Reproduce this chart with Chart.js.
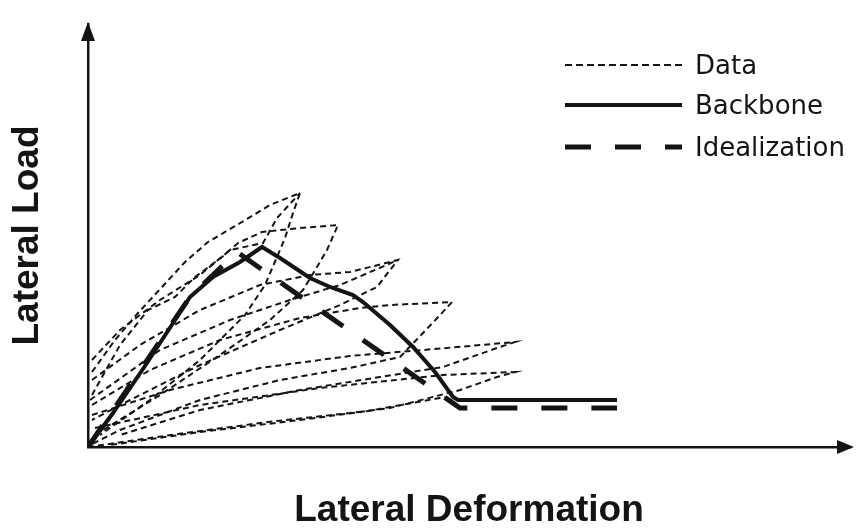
<!DOCTYPE html>
<html>
<head>
<meta charset="utf-8">
<title>Lateral Load vs Lateral Deformation</title>
<script src="https://cdn.jsdelivr.net/npm/chart.js@4.4.1/dist/chart.umd.min.js"></script>
<style>
  html, body { margin: 0; padding: 0; background: #fff; }
  #wrap { width: 856px; height: 529px; position: relative; }
</style>
</head>
<body>
<div id="wrap"><canvas id="chart"></canvas></div>
<script>
// schematic, no ticks: units are read off the picture, origin at the axis corner
const backbone = [[0,0],[25,34],[59,84],[102,150],[125,170],[152,185],[174,200],[192,189],[222,169],
  [242,160],[265,152],[275,145],[302,122],[325,100],[347,75],[365,50],[370,47],[529,47]];
const idealization = [[0,0],[102,150],[149,195],[372,39],[529,39]];

// test data loops (hysteresis)
const loop1 = [[4,75],[27,107],[50,134],[74,160],[97,185],[120,205],[154,225],[182,242],[212,254],
  [205,234],[197,209],[189,190],[177,162],[157,132],[112,87],[62,47],[12,12]];
const loop2 = [[4,87],[32,117],[72,147],[112,172],[142,197],[175,204],[189,229],[212,254]];
const loop3 = [[4,52],[32,102],[60,137],[87,150],[107,170],[134,190],[150,204],[174,215],[212,219],
  [250,222],[239,197],[229,180],[215,157],[182,127],[132,92],[72,52],[12,15]];
const loop4 = [[4,67],[52,102],[112,137],[172,162],[222,172],[262,175],[310,187],[302,177],[289,160],
  [252,142],[192,117],[112,82],[42,47],[4,27]];
const loop5 = [[2,47],[72,97],[142,127],[202,147],[252,162],[310,187]];
const loop6 = [[4,42],[62,77],[132,107],[212,129],[272,139],[302,142],[364,145],[352,132],[335,114],
  [312,90],[262,79],[192,67],[112,47],[32,17],[2,2]];
const loop7 = [[4,32],[82,57],[172,79],[262,91],[335,97],[427,105],[409,99],[355,80],[292,70],
  [212,57],[112,37],[32,12]];
const loop8 = [[7,19],[112,42],[232,59],[355,72],[427,75],[409,70],[372,57],[302,39],[212,27],
  [112,15],[22,2]];
const loop9 = [[0,0],[90,13],[180,25],[280,36],[357,50]];

const dataLoops = [loop1, loop2, loop3, loop4, loop5, loop6, loop7, loop8, loop9];
const legendLabels = ['Data', 'Backbone', 'Idealization'];

const ink = '#141414';
const toXY = (pts) => pts.map(([x, y]) => ({ x, y }));

const datasets = [
  {
    label: legendLabels[1],
    data: toXY(backbone),
    borderColor: ink,
    borderWidth: 4,
  },
  {
    label: legendLabels[2],
    data: toXY(idealization),
    borderColor: ink,
    borderWidth: 5,
    borderDash: [26, 24],
  },
];
dataLoops.forEach((loop) => {
  datasets.push({
    label: legendLabels[0],
    data: toXY(loop),
    borderColor: ink,
    borderWidth: 2,
    borderDash: [6, 4],
  });
});

// arrow heads on the two axes
const axisArrows = {
  id: 'axisArrows',
  afterDraw(chart) {
    const { ctx, chartArea: { left, right, top, bottom } } = chart;
    ctx.save();
    ctx.fillStyle = ink;
    ctx.beginPath();
    ctx.moveTo(left, top - 2);
    ctx.lineTo(left - 7, top + 17);
    ctx.lineTo(left + 7, top + 17);
    ctx.closePath();
    ctx.fill();
    ctx.beginPath();
    ctx.moveTo(right + 4, bottom);
    ctx.lineTo(right - 13, bottom - 7);
    ctx.lineTo(right - 13, bottom + 7);
    ctx.closePath();
    ctx.fill();
    ctx.restore();
  }
};

// legend in the upper right corner, inside the plot
const sketchLegend = {
  id: 'sketchLegend',
  afterDraw(chart) {
    const { ctx } = chart;
    const rows = [
      { text: legendLabels[0], y: 65, width: 1.8, dash: [7, 4] },
      { text: legendLabels[1], y: 105, width: 4, dash: [] },
      { text: legendLabels[2], y: 147, width: 5, dash: [26, 24] },
    ];
    ctx.save();
    ctx.fillStyle = ink;
    ctx.strokeStyle = ink;
    ctx.font = '26px "DejaVu Sans"';
    ctx.textBaseline = 'middle';
    rows.forEach((r) => {
      ctx.lineWidth = r.width;
      ctx.setLineDash(r.dash);
      ctx.beginPath();
      ctx.moveTo(565, r.y);
      ctx.lineTo(682, r.y);
      ctx.stroke();
      ctx.setLineDash([]);
      ctx.fillText(r.text, 695, r.y + 2);
    });
    ctx.restore();
  }
};

new Chart(document.getElementById('chart'), {
  type: 'scatter',
  data: { datasets },
  options: {
    responsive: true,
    maintainAspectRatio: false,
    animation: false,
    showLine: true,
    layout: { padding: { top: 24, right: 6, left: 0, bottom: 0 } },
    elements: {
      point: { radius: 0, hoverRadius: 0 },
      line: { tension: 0, fill: false },
    },
    plugins: {
      legend: { display: false },
      tooltip: { enabled: false },
    },
    scales: {
      x: {
        type: 'linear',
        min: 0,
        max: 762,
        ticks: { display: false },
        grid: { display: false, drawTicks: false },
        border: { display: true, color: ink, width: 2.5 },
        title: {
          display: true,
          text: 'Lateral Deformation',
          color: ink,
          font: { family: '"Liberation Sans", Arial, sans-serif', size: 37, weight: 'bold', lineHeight: 1 },
          padding: { top: 45, bottom: 0 },
        },
      },
      y: {
        type: 'linear',
        min: 0,
        max: 423,
        ticks: { display: false },
        grid: { display: false, drawTicks: false },
        border: { display: true, color: ink, width: 2.5 },
        title: {
          display: true,
          text: 'Lateral Load',
          color: ink,
          font: { family: '"Liberation Sans", Arial, sans-serif', size: 37, weight: 'bold', lineHeight: 1 },
          padding: { top: 9, bottom: 42 },
        },
      },
    },
  },
  plugins: [axisArrows, sketchLegend],
});
</script>
</body>
</html>
